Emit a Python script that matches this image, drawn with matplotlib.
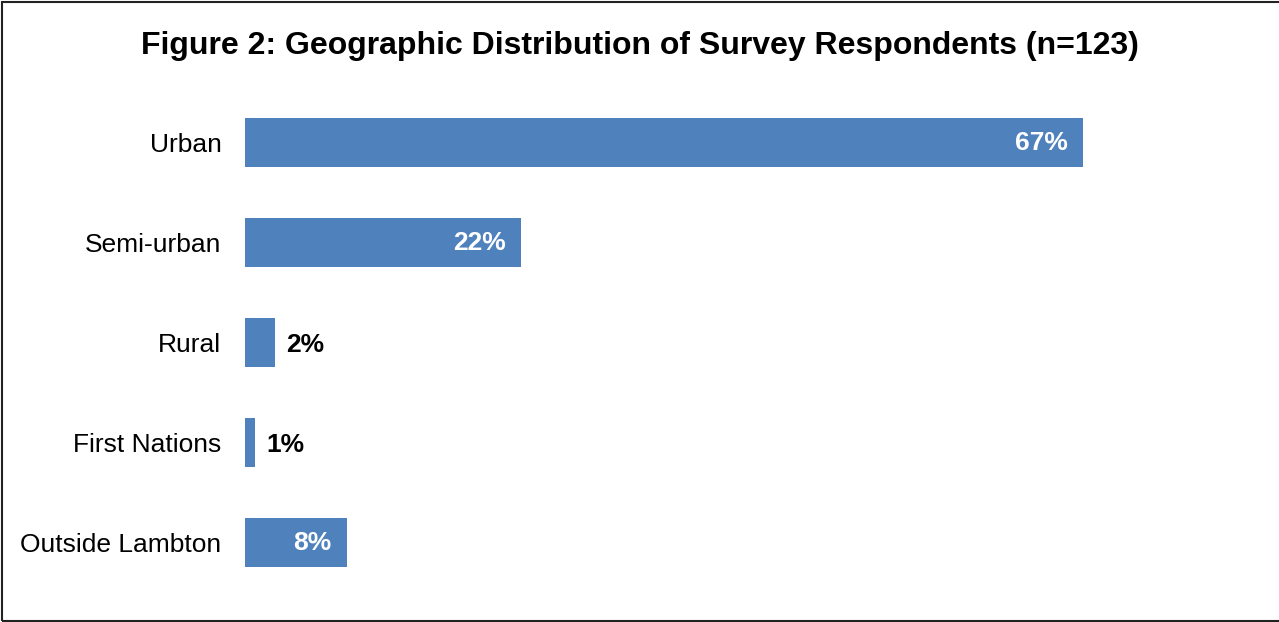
import matplotlib.pyplot as plt
from matplotlib.patches import Rectangle

plt.rcParams['font.family'] = ['Liberation Sans', 'DejaVu Sans']

categories = ['Urban', 'Semi-urban', 'Rural', 'First Nations', 'Outside Lambton']
values = [66.7, 22.0, 2.4, 0.8, 8.1]
labels = ['67%', '22%', '2%', '1%', '8%']
inside = [True, True, False, False, True]

W, H = 1279, 622
fig = plt.figure(figsize=(W / 100, H / 100), dpi=100)

# axes: left edge at x=245 px, rows 100 px apart starting at 92.5 px
ax = fig.add_axes([245 / W, 1 - 592.5 / H, 1005 / W, 500 / H])
y = list(range(len(categories)))
ax.barh(y, values, height=0.49, color='#4F81BD')
ax.set_xlim(0, 80)
ax.set_ylim(len(categories) - 0.5, -0.5)
ax.set_yticks(y)
ax.set_yticklabels(categories, fontsize=19)
ax.tick_params(axis='y', length=0, pad=17)
ax.set_xticks([])
for s in ax.spines.values():
    s.set_visible(False)

for yi, v, lab, ins in zip(y, values, labels, inside):
    if ins:
        ax.annotate(lab, (v, yi), xytext=(-11, 0), textcoords='offset points',
                    ha='right', va='center', color='white', fontsize=19, fontweight='bold')
    else:
        ax.annotate(lab, (v, yi), xytext=(8, -2), textcoords='offset points',
                    ha='left', va='center', color='black', fontsize=19, fontweight='bold')

fig.text(0.5, 1 - 46 / H, 'Figure 2: Geographic Distribution of Survey Respondents (n=123)',
         ha='center', va='center', fontsize=23, fontweight='bold')

fig.patches.append(Rectangle((2 / W, 1 / H), 1.5, 1 - 3 / H, transform=fig.transFigure,
                             fill=False, edgecolor='#222222', linewidth=1.5))

fig.savefig('out.png', dpi=100)
